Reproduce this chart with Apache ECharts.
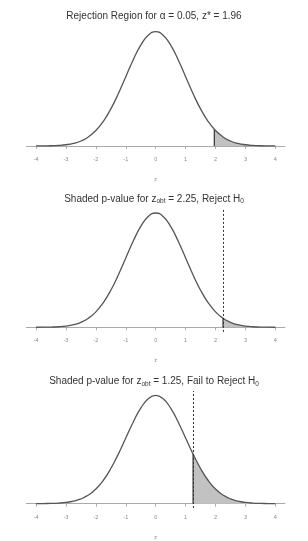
<!DOCTYPE html>
<html>
<head>
<meta charset="utf-8">
<script src="https://cdn.jsdelivr.net/npm/echarts@6/dist/echarts.min.js"></script>
<style>html,body{margin:0;padding:0;background:#fff}#c{width:308px;height:541px}</style>
</head>
<body>
<div id="c"></div>
<script>
// z grid and standard-normal density heights
var zValues = [-4,-3.75,-3.5,-3.25,-3,-2.75,-2.5,-2.25,-2,-1.75,-1.5,-1.25,-1,-0.75,-0.5,-0.25,0,0.25,0.5,0.75,1,1.25,1.5,1.75,2,2.25,2.5,2.75,3,3.25,3.5,3.75,4];
var density = [0.0001,0.0004,0.0009,0.0020,0.0044,0.0091,0.0175,0.0317,0.0540,0.0863,0.1295,0.1826,0.2420,0.3011,0.3521,0.3867,0.3989,0.3867,0.3521,0.3011,0.2420,0.1826,0.1295,0.0863,0.0540,0.0317,0.0175,0.0091,0.0044,0.0020,0.0009,0.0004,0.0001];
// cut-off points of the shaded regions and the curve height there
var cutoffs = [1.96, 2.25, 1.25];
var cutoffHeights = [0.0584, 0.0317, 0.1826];
var showDashed = [false, true, true];
var tickValues = [-4,-3,-2,-1,0,1,2,3,4];
var panelTitles = [
  'Rejection Region for α = 0.05, z* = 1.96',
  'Shaded p-value for {t|z}{s|obt} = 2.25, Reject H{s|0}',
  'Shaded p-value for {t|z}{s|obt} = 1.25, Fail to Reject H{s|0}'
];
var axisName = 'z';

(function () {
var chart = echarts.init(document.getElementById('c'), null, {renderer: 'canvas'});
var pxPerUnit = 286.5;
var yMin = -0.016, yMax = 0.415;
var gridH = (yMax - yMin) * pxPerUnit;
var baselines = [146, 327.3, 510];

var grids = [], xAxes = [], yAxes = [], series = [], titles = [];

for (var p = 0; p < 3; p++) {
  var gridTop = baselines[p] - yMax * pxPerUnit;
  grids.push({left: 26.5, right: 23.1, top: gridTop, height: gridH});
  xAxes.push({
    gridIndex: p, type: 'value', min: -4.32, max: 4.32,
    splitLine: {show: false},
    axisLine: {show: true, onZero: true, lineStyle: {color: '#aaa', width: 1.2}},
    axisTick: {show: true, customValues: tickValues, length: 3, lineStyle: {color: '#999', width: 0.8}},
    axisLabel: {show: true, customValues: tickValues, fontSize: 5.5, color: '#888', margin: 6, fontFamily: 'Liberation Sans'},
    name: axisName, nameLocation: 'middle', nameGap: 26,
    nameTextStyle: {fontSize: 5.5, color: '#888', fontFamily: 'Liberation Sans'}
  });
  yAxes.push({gridIndex: p, type: 'value', min: yMin, max: yMax, show: false, splitLine: {show: false}});

  var c = cutoffs[p];
  var shade = [[c, cutoffHeights[p]]];
  for (var i = 0; i < zValues.length; i++) { if (zValues[i] > c + 0.001) shade.push([zValues[i], density[i]]); }
  var curve = zValues.map(function (z, k) { return [z, density[k]]; });

  series.push({
    type: 'line', xAxisIndex: p, yAxisIndex: p, data: shade, showSymbol: false,
    smooth: 0.5, silent: true,
    lineStyle: {width: 0}, areaStyle: {color: '#c2c2c2', opacity: 1, origin: 0}, z: 1
  });
  series.push({
    type: 'line', xAxisIndex: p, yAxisIndex: p, data: [[c, 0], [c, cutoffHeights[p]]],
    showSymbol: false, silent: true, lineStyle: {color: '#333', width: 1.2}, z: 3
  });
  var s = {
    type: 'line', xAxisIndex: p, yAxisIndex: p, data: curve, showSymbol: false,
    smooth: 0.5, silent: true,
    lineStyle: {color: '#555', width: 1.3}, z: 4
  };
  if (showDashed[p]) {
    s.markLine = {
      symbol: 'none', silent: true, label: {show: false},
      lineStyle: {color: '#333', type: [2, 2], width: 1},
      data: [{xAxis: c}]
    };
  }
  series.push(s);

  titles.push({
    text: panelTitles[p], left: 'center', top: baselines[p] - 139.5,
    textStyle: {
      fontSize: 10, fontWeight: 'normal', color: '#333', fontFamily: 'Liberation Sans',
      rich: {
        t: {fontSize: 10, color: '#333', fontFamily: 'Liberation Sans'},
        s: {fontSize: 6.5, color: '#333', fontFamily: 'Liberation Sans', padding: [5, 0, 0, 0]}
      }
    }
  });
}

chart.setOption({
  animation: false,
  title: titles,
  grid: grids,
  xAxis: xAxes,
  yAxis: yAxes,
  series: series
});
})();
</script>
</body>
</html>
